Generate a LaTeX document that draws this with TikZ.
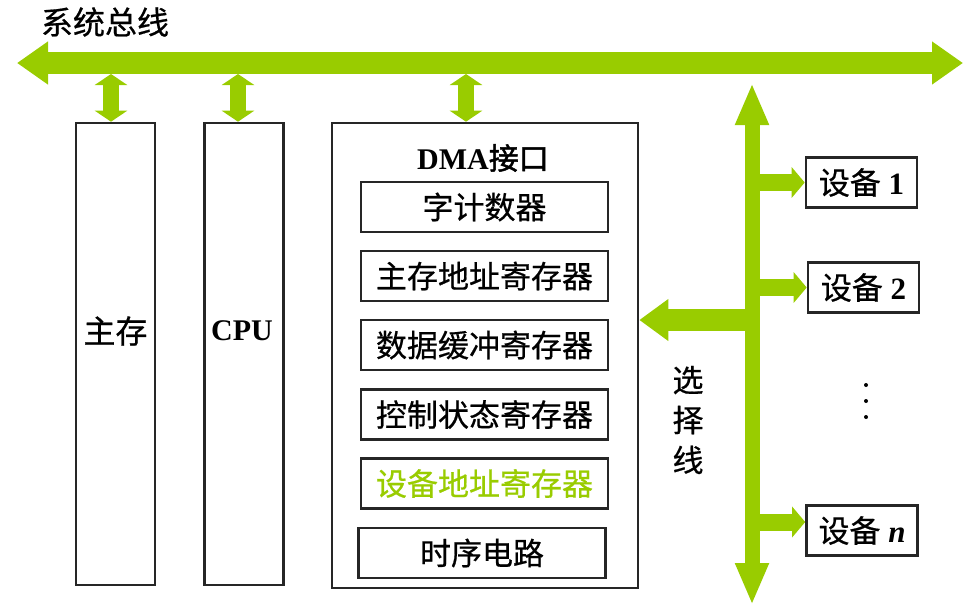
\documentclass[tikz,border=0pt]{standalone}
\usepackage{fontspec}
\setmainfont{Liberation Serif}
\newfontfamily\cjk[FakeBold=0.6]{Noto Sans CJK SC}
\newfontfamily\cjkb[FakeBold=1.6]{Noto Sans CJK SC}
\usetikzlibrary{arrows.meta}
\definecolor{busgreen}{HTML}{99CC00}
\tikzset{
  box/.style={draw=black!85, line width=2.6pt, fill=white, inner sep=0pt},
  reg/.style={box, minimum width=247pt, minimum height=50pt, font=\cjk\fontsize{31}{34}\selectfont},
  dev/.style={box, minimum width=111pt, minimum height=50pt, font=\fontsize{31}{34}\selectfont},
  col/.style={box, minimum width=79pt, minimum height=462pt},
  busarrow/.style={busgreen, line width=22pt, {Triangle[length=31pt,width=41pt]}-{Triangle[length=31pt,width=41pt]}},
  linkarrow/.style={busgreen, line width=16pt, {Triangle[length=11pt,width=32pt]}-{Triangle[length=11pt,width=32pt]}},
  selarrow/.style={busgreen, line width=15pt, {Triangle[length=42pt,width=31pt]}-{Triangle[length=42pt,width=31pt]}},
  devarrow/.style={busgreen, line width=17pt, -{Triangle[length=13pt,width=30pt]}},
  dmaarrow/.style={busgreen, line width=22pt, -{Triangle[length=29pt,width=40pt]}},
  lbl/.style={font=\cjk\fontsize{32}{34}\selectfont, inner sep=0pt}
}
\begin{document}
\begin{tikzpicture}[x=1pt, y=-1pt]
\useasboundingbox (0,0) rectangle (965,606);
% bus
\coordinate (busL) at (17,63);
\coordinate (busR) at (963,63);
\coordinate (busbot) at (0,74);
\node[lbl, anchor=center] (buslbl) at (105,22) {系统总线};
\draw[busarrow] (busL) -- (busR);
% columns
\node[col] (ms) at (115.5,354) {};
\node[font=\cjk\fontsize{32}{34}\selectfont] (mslbl) at (115.5,331) {主存};
\node[col] (cpu) at (244,354) {};
\node[font=\bfseries\fontsize{30}{34}\selectfont] (cpulbl) at (242,331) {CPU};
\node[box, minimum width=306pt, minimum height=465pt] (dma) at (485,355.5) {};
\node[font=\fontsize{30}{32}\selectfont, inner sep=0pt] (dmalbl) at (483,158) {\textbf{DMA}{\cjkb 接口}};
% registers
\node[reg] (r1) at (484.5,207) {字计数器};
\node[reg] (r2) at (484.5,276) {主存地址寄存器};
\node[reg] (r3) at (484.5,345) {数据缓冲寄存器};
\node[reg] (r4) at (484.5,414.5) {控制状态寄存器};
\node[reg, text=busgreen] (r5) at (484.5,483.5) {设备地址寄存器};
\node[reg] (r6) at (482,553) {时序电路};
% link arrows
\draw[linkarrow] (ms.north -| 111,0) -- (busbot -| 111,0);
\draw[linkarrow] (cpu.north -| 238,0) -- (busbot -| 238,0);
\draw[linkarrow] (dma.north -| 466,0) -- (busbot -| 466,0);
% selection line
\coordinate (selT) at (752,83);
\coordinate (selB) at (752,605);
\draw[selarrow] (selB) -- (selT);
\node[lbl, align=center, font=\cjk\fontsize{31}{40}\selectfont] (sellbl) at (688,420) {选\\择\\线};
% devices
\node[dev] (d1) at (861.5,182.5) {{\cjk 设备} \textbf{1}};
\node[dev] (d2) at (863.5,287.5) {{\cjk 设备} \textbf{2}};
\node[dev] (dn) at (862,530.5) {{\cjk 设备} \textbf{\textit{n}}};
\coordinate (j1) at (745,182.5);
\coordinate (j2) at (745,287.5);
\coordinate (jn) at (745,522);
\coordinate (jd) at (757,320);
\draw[devarrow] (j1) -- (d1.west);
\draw[devarrow] (j2) -- (d2.west);
\draw[devarrow] (jn) -- (dn.west |- jn);
\draw[dmaarrow] (jd) -- (dma.east |- jd);
% dots
\foreach \yy in {385,401,417} \fill (866,\yy) circle (2pt);
\end{tikzpicture}
\end{document}
